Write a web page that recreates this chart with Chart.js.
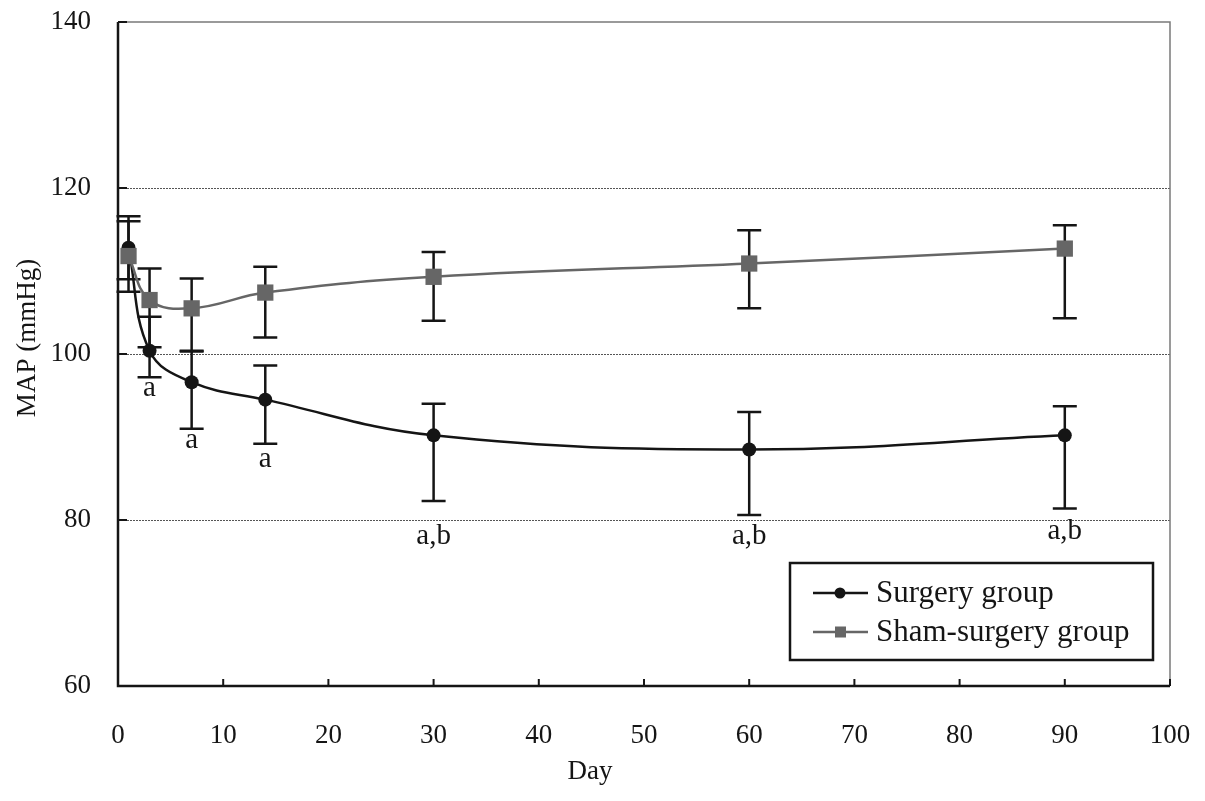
<!DOCTYPE html>
<html>
<head>
<meta charset="utf-8">
<script src="https://cdn.jsdelivr.net/npm/chart.js@4/dist/chart.umd.min.js"></script>
<style>
  html, body { margin: 0; padding: 0; background: #fff; }
  #wrap { width: 1205px; height: 801px; }
</style>
</head>
<body>
<div id="wrap"><canvas id="chart"></canvas></div>
<script>
const days = [1, 3, 7, 14, 30, 60, 90];

const surgery = [112.8, 100.4, 96.6, 94.5, 90.2, 88.5, 90.2];
const surgeryHigh = [116.6, 104.5, 100.3, 98.6, 94.0, 93.0, 93.7];
const surgeryLow = [109.0, 97.2, 91.0, 89.2, 82.3, 80.6, 81.4];

const sham = [111.8, 106.5, 105.5, 107.4, 109.3, 110.9, 112.7];
const shamHigh = [116.0, 110.3, 109.1, 110.5, 112.3, 114.9, 115.5];
const shamLow = [107.5, 100.8, 100.4, 102.0, 104.0, 105.5, 104.3];

const noteDays = [3, 7, 14, 30, 60, 90];
const noteValues = [95.9, 89.6, 87.3, 78.0, 78.0, 78.6];
const noteTexts = ["a", "a", "a", "a,b", "a,b", "a,b"];

const xTicks = [0, 10, 20, 30, 40, 50, 60, 70, 80, 90, 100];
const yTicks = [60, 80, 100, 120, 140];

const seriesNames = ["Surgery group", "Sham-surgery group"];

const serif = "'Liberation Serif', 'DejaVu Serif', serif";
const dark = "#151515";
const grey = "#666666";

function toPoints(vals) {
  return days.map((d, i) => ({ x: d, y: vals[i] }));
}

// error bars go under the lines and markers
const errorBars = {
  id: "errorBars",
  beforeDatasetsDraw(chart) {
    const { ctx, scales: { x, y } } = chart;
    ctx.save();
    ctx.strokeStyle = dark;
    ctx.lineWidth = 2.5;
    const sets = [[surgeryHigh, surgeryLow], [shamHigh, shamLow]];
    sets.forEach(([hi, lo]) => {
      days.forEach((d, i) => {
        const px = x.getPixelForValue(d);
        const top = y.getPixelForValue(hi[i]);
        const bot = y.getPixelForValue(lo[i]);
        ctx.beginPath();
        ctx.moveTo(px, top); ctx.lineTo(px, bot);
        ctx.moveTo(px - 12, top); ctx.lineTo(px + 12, top);
        ctx.moveTo(px - 12, bot); ctx.lineTo(px + 12, bot);
        ctx.stroke();
      });
    });
    ctx.restore();
  }
};

const frame = {
  id: "frame",
  afterDraw(chart) {
    const { ctx, chartArea: a, scales: { x, y } } = chart;
    ctx.save();
    // top and right edges
    ctx.strokeStyle = "#7a7a7a";
    ctx.lineWidth = 1.5;
    ctx.beginPath();
    ctx.moveTo(a.left, a.top); ctx.lineTo(a.right, a.top); ctx.lineTo(a.right, a.bottom);
    ctx.stroke();
    // left and bottom axes
    ctx.strokeStyle = dark;
    ctx.lineWidth = 2.5;
    ctx.beginPath();
    ctx.moveTo(a.left, a.top); ctx.lineTo(a.left, a.bottom); ctx.lineTo(a.right, a.bottom);
    ctx.stroke();
    // inward ticks
    ctx.lineWidth = 2;
    ctx.beginPath();
    yTicks.forEach(v => {
      const py = y.getPixelForValue(v);
      ctx.moveTo(a.left, py); ctx.lineTo(a.left + 9, py);
    });
    xTicks.forEach(v => {
      const px = x.getPixelForValue(v);
      ctx.moveTo(px, a.bottom); ctx.lineTo(px, a.bottom - 7);
    });
    ctx.stroke();

    // significance letters
    ctx.fillStyle = dark;
    ctx.font = "29px " + serif;
    ctx.textAlign = "center";
    ctx.textBaseline = "middle";
    noteDays.forEach((d, i) => {
      ctx.fillText(noteTexts[i], x.getPixelForValue(d), y.getPixelForValue(noteValues[i]));
    });

    // axis titles
    ctx.font = "27px " + serif;
    ctx.fillText("Day", 590, 772);
    ctx.save();
    ctx.translate(28, 338);
    ctx.rotate(-Math.PI / 2);
    ctx.fillText("MAP (mmHg)", 0, 0);
    ctx.restore();

    // legend box
    const bx = a.right - 380, by = a.bottom - 123, bw = 363, bh = 97;
    ctx.fillStyle = "#fff";
    ctx.fillRect(bx, by, bw, bh);
    ctx.strokeStyle = dark;
    ctx.lineWidth = 2.5;
    ctx.strokeRect(bx, by, bw, bh);
    const rows = [by + 30, by + 69];
    const colors = [dark, grey];
    rows.forEach((ry, i) => {
      ctx.strokeStyle = colors[i];
      ctx.lineWidth = 2.5;
      ctx.beginPath();
      ctx.moveTo(bx + 23, ry); ctx.lineTo(bx + 78, ry);
      ctx.stroke();
      ctx.fillStyle = colors[i];
      if (i === 0) {
        ctx.beginPath(); ctx.arc(bx + 50, ry, 5.5, 0, Math.PI * 2); ctx.fill();
      } else {
        ctx.fillRect(bx + 45, ry - 5.5, 11, 11);
      }
      ctx.fillStyle = dark;
      ctx.font = "31px " + serif;
      ctx.textAlign = "left";
      ctx.fillText(seriesNames[i], bx + 86, ry + 1);
    });
    ctx.restore();
  }
};

new Chart(document.getElementById("chart"), {
  type: "line",
  data: {
    datasets: [
      {
        label: seriesNames[0],
        data: toPoints(surgery),
        borderColor: dark,
        backgroundColor: dark,
        borderWidth: 2.5,
        pointStyle: "circle",
        pointRadius: 7,
        pointBorderWidth: 0,
        tension: 0.4,
        order: 1
      },
      {
        label: seriesNames[1],
        data: toPoints(sham),
        borderColor: grey,
        backgroundColor: grey,
        borderWidth: 2.5,
        pointStyle: "rect",
        pointRadius: 11.5,
        pointBorderWidth: 0,
        tension: 0.4,
        order: 0
      }
    ]
  },
  options: {
    responsive: true,
    maintainAspectRatio: false,
    animation: false,
    devicePixelRatio: 1,
    layout: { padding: { top: 22, right: 35, left: 0, bottom: 0 } },
    plugins: { legend: { display: false }, tooltip: { enabled: false } },
    scales: {
      x: {
        type: "linear",
        min: 0,
        max: 100,
        afterFit(s) { s.height = 115; s.paddingLeft = 0; s.paddingRight = 0; },
        afterBuildTicks(s) { s.ticks = xTicks.map(v => ({ value: v })); },
        grid: { display: false },
        border: { display: false },
        ticks: { color: dark, font: { family: serif, size: 27 }, padding: 26, maxRotation: 0 }
      },
      y: {
        min: 60,
        max: 140,
        afterFit(s) { s.width = 118; s.paddingTop = 0; s.paddingBottom = 0; },
        afterBuildTicks(s) { s.ticks = yTicks.map(v => ({ value: v })); },
        grid: {
          drawTicks: false,
          color: c => (c.tick && (c.tick.value === 60 || c.tick.value === 140)) ? "rgba(0,0,0,0)" : "#555555",
          lineWidth: 1
        },
        border: { display: false, dash: [2, 1] },
        ticks: { color: dark, font: { family: serif, size: 27 }, padding: 27 }
      }
    }
  },
  plugins: [errorBars, frame]
});
</script>
</body>
</html>
